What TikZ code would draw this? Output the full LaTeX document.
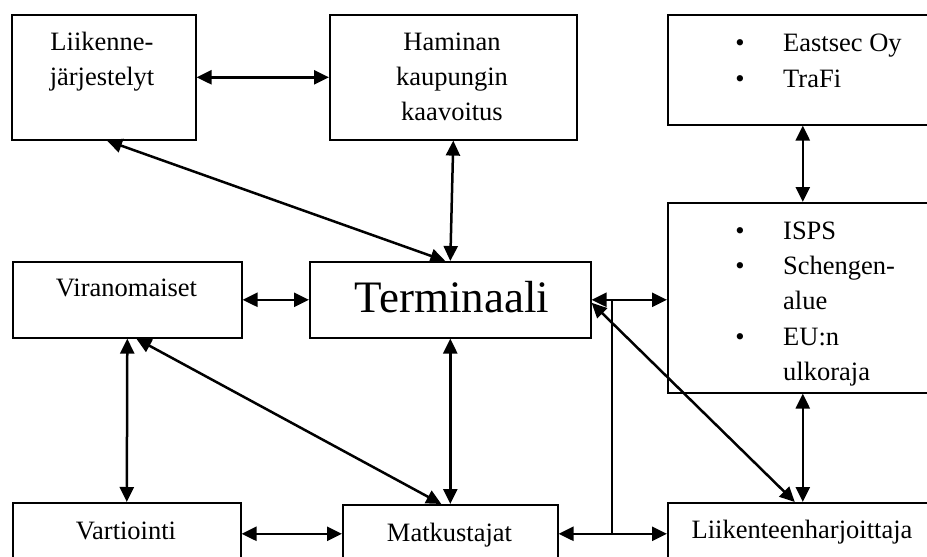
\documentclass[tikz,border=0pt]{standalone}
\usepackage{fontspec}
\setmainfont{Liberation Serif}
\usetikzlibrary{arrows.meta,calc}
\tikzset{
 box/.style={draw, line width=1.6pt, inner sep=0pt, anchor=north west},
 conn/.style={line width=2.5pt, {Triangle[length=15pt,width=14pt]}-{Triangle[length=15pt,width=14pt]}},
 plainline/.style={line width=2.5pt},
 lbl/.style={font=\fontsize{26.5}{35}\selectfont, inner sep=0pt, anchor=base},
 lst/.style={lbl, anchor=base west},
 big/.style={font=\fontsize{45}{50}\selectfont, inner sep=0pt, anchor=base},
}
\newcommand{\bul}{\llap{\textbullet\hspace{38.5pt}}}
\begin{document}
\begin{tikzpicture}[x=1pt,y=-1pt]
\useasboundingbox (0,0) rectangle (927,557);
\fill[white] (0,0) rectangle (927,557);
\clip (0,0) rectangle (927,557);

% boxes
\node[box, minimum width=184pt, minimum height=125pt] (lj) at (11,14) {};
\node[box, minimum width=247pt, minimum height=125pt] (ham) at (329,14) {};
\node[box, minimum width=270pt, minimum height=110pt] (es) at (667,14) {};
\node[box, minimum width=270pt, minimum height=190pt] (isps) at (667,202) {};
\node[box, minimum width=229pt, minimum height=76pt] (vir) at (12,261) {};
\node[box, minimum width=281pt, minimum height=76pt] (term) at (309,261) {};
\node[box, minimum width=228pt, minimum height=62pt] (var) at (12,502) {};
\node[box, minimum width=215pt, minimum height=58pt] (mat) at (342,504) {};
\node[box, minimum width=270pt, minimum height=62pt] (lh) at (667,502) {};

% texts
\node[lbl] (lj1) at (102,50) {Liikenne-};
\node[lbl] (lj2) at (102,85) {järjestelyt};
\node[lbl] (ham1) at (452,50) {Haminan};
\node[lbl] (ham2) at (452,85) {kaupungin};
\node[lbl] (ham3) at (452,120) {kaavoitus};
\node[lst] (es1) at (783,51) {\bul Eastsec Oy};
\node[lst] (es2) at (783,87) {\bul TraFi};
\node[lst] (is1) at (783,239) {\bul ISPS};
\node[lst] (is2) at (783,274) {\bul Schengen-};
\node[lst] (is3) at (783,309) {alue};
\node[lst] (is4) at (783,345) {\bul EU:n};
\node[lst] (is5) at (783,380) {ulkoraja};
\node[lbl] (vir1) at (126.5,296) {Viranomaiset};
\node[big] (term1) at (452,312) {Terminaali};
\node[lbl] (var1) at (126,539) {Vartiointi};
\node[lbl] (mat1) at (449.5,541) {Matkustajat};
\node[lbl] (lh1) at (802,538) {Liikenteenharjoittaja};

% connectors
\draw[conn] (lj.east) -- (ham.west);
\draw[conn] (es.south) -- (isps.north);
\draw[conn] ([xshift=96pt]lj.south west) -- ([xshift=-5pt]term.north);
\draw[conn] (ham.south) -- (term.north);
\draw[conn] (vir.east) -- (term.west);
\draw[conn] (term.east) -- (term.east -| isps.west);
\draw[conn] ([yshift=-3pt]term.east) -- ([xshift=-8pt]lh.north);
\draw[conn] (vir.south) -- (var.north);
\draw[conn] ([xshift=9pt]vir.south) -- ([xshift=-9pt]mat.north);
\draw[conn] (term.south) -- (mat.north);
\draw[conn] (var.east) -- (mat.west);
\draw[conn] (mat.east) -- (lh.west);
\draw[conn] (isps.south) -- (lh.north);
\coordinate (jx) at (612,0);
\draw[plainline] (mat.east -| jx) -- (term.east -| jx);
\end{tikzpicture}
\end{document}
